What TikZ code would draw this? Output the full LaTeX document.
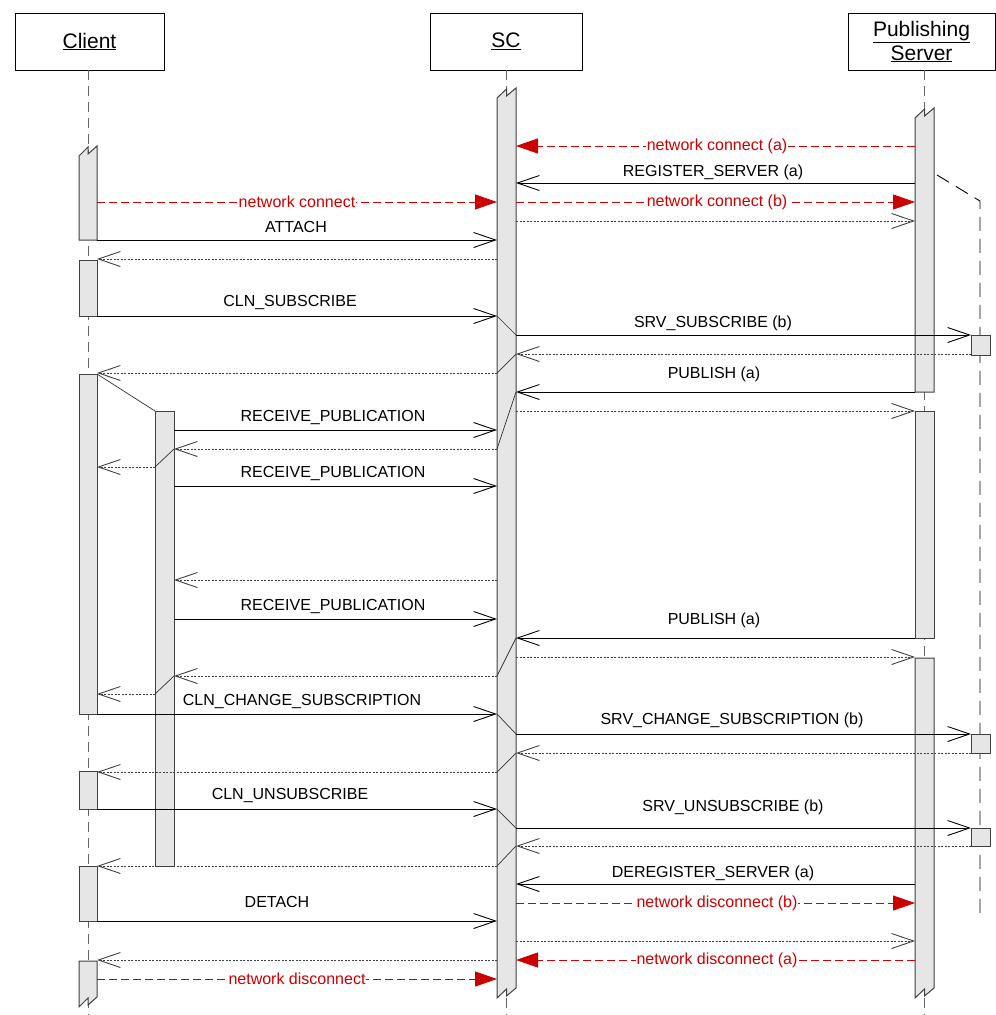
\documentclass[tikz,border=0pt]{standalone}
\usepackage{fontspec}
\setmainfont{Liberation Sans}
\usetikzlibrary{arrows.meta}
\definecolor{barfill}{HTML}{E6E6E6}
\definecolor{msgred}{HTML}{CC0000}
\definecolor{retgray}{HTML}{404040}
\tikzset{
 head/.style={draw=black, line width=0.9pt, fill=white, minimum height=57pt, inner sep=0pt, font=\fontsize{21}{26}\selectfont, align=center},
 lifeline/.style={draw=black!60, line width=0.9pt, dash pattern=on 10pt off 6pt},
 extraline/.style={draw=black, line width=0.9pt, dash pattern=on 14pt off 8pt},
 actbar/.style={fill=barfill, draw=black!75, line width=1pt},
 syncmsg/.style={draw=black, line width=0.9pt, -{Straight Barb[length=22pt,width=15pt]}},
 retmsg/.style={draw=retgray, line width=0.9pt, dash pattern=on 2pt off 1.5pt, -{Straight Barb[length=22pt,width=15pt]}},
 netmsg/.style={draw=msgred, line width=0.9pt, dash pattern=on 8pt off 4pt, -{Triangle[length=22pt,width=15pt,fill=msgred]}},
 msglabel/.style={font=\fontsize{16}{19}\selectfont, inner sep=0pt},
 netlabel/.style={font=\fontsize{16}{19}\selectfont, text=msgred, fill=white, inner xsep=1pt, inner ysep=2pt},
 link/.style={draw=black!80, line width=0.7pt},
}
% message helpers: name, x-from, x-to, y, label, label-x, label-y
\newcommand\SyncMsg[7]{%
  \coordinate (#1-from) at (#2,#4);
  \coordinate (#1-to) at (#3,#4);
  \draw[syncmsg] (#1-from) -- (#1-to);
  \node[msglabel] (#1-label) at (#6,#7) {#5};}
\newcommand\NetMsg[6]{%
  \coordinate (#1-from) at (#2,#4);
  \coordinate (#1-to) at (#3,#4);
  \draw[netmsg] (#1-from) -- (#1-to);
  \node[netlabel] (#1-label) at (#6,#4) {#5};}
\newcommand\RetMsg[4]{%
  \coordinate (#1-from) at (#2,#4);
  \coordinate (#1-to) at (#3,#4);
  \draw[retmsg] (#1-from) -- (#1-to);}
% activation bars: left, right, top, bottom
\newcommand\PlainBar[4]{\filldraw[actbar] (#1,#3) rectangle (#2,#4);}
\newcommand\ZigTopBar[4]{\filldraw[actbar] (#1,{#3+10}) -- ({(#1+#2)/2},{#3+1}) -- ({(#1+#2)/2},{#3+8}) -- (#2,#3) -- (#2,#4) -- (#1,#4) -- cycle;}
\newcommand\ZigBotBar[4]{\filldraw[actbar] (#1,#3) -- (#2,#3) -- (#2,#4) -- ({(#1+#2)/2},{#4+8}) -- ({(#1+#2)/2},{#4+1}) -- (#1,{#4+10}) -- cycle;}
\newcommand\ZigBothBar[4]{\filldraw[actbar] (#1,{#3+10}) -- ({(#1+#2)/2},{#3+1}) -- ({(#1+#2)/2},{#3+8}) -- (#2,#3) -- (#2,#4) -- ({(#1+#2)/2},{#4+8}) -- ({(#1+#2)/2},{#4+1}) -- (#1,{#4+10}) -- cycle;}

\begin{document}
\begin{tikzpicture}[x=1pt,y=-1pt]
\useasboundingbox (0,0) rectangle (996,1015);
% headers
\node[head, minimum width=149pt] (client) at (89.5,41.5) {\underline{Client}};
\node[head, minimum width=152pt] (sc) at (506,41.5) {\underline{SC}};
\node[head, minimum width=147pt] (ps) at (921.5,41.5) {\underline{Publishing}\\[-2pt]\underline{Server}};
% lifelines
\coordinate (clTop) at (88,70); \coordinate (clEnd) at (88,1015);
\coordinate (scTop) at (506,70); \coordinate (scEnd) at (506,1015);
\coordinate (psTop) at (924,70); \coordinate (psEnd) at (924,1015);
\draw[lifeline] (clTop) -- (clEnd);
\draw[lifeline] (scTop) -- (scEnd);
\draw[lifeline] (psTop) -- (psEnd);
% extra (unnamed) lifeline on the right
\coordinate (exA) at (937,175); \coordinate (exB) at (980,201); \coordinate (exC) at (980,919);
\draw[extraline] (exA) -- (exB) -- (exC);
% activation bars
\ZigTopBar{79}{97}{146}{240}
\PlainBar{79}{97}{260}{316}
\PlainBar{79}{97}{374}{714}
\PlainBar{155}{174}{411}{866}
\PlainBar{79}{97}{771}{809}
\PlainBar{79}{97}{866}{921}
\ZigBotBar{79}{97}{961}{997}
\ZigBothBar{497}{516}{88}{988}
\ZigTopBar{915}{934}{108}{392}
\PlainBar{915}{934}{411}{638}
\ZigBotBar{915}{934}{658}{988}
% small boxes on the right lifeline
\filldraw[actbar] (971,335) rectangle (990,355);
\filldraw[actbar] (971,734) rectangle (990,753);
\filldraw[actbar] (971,828) rectangle (990,846);
% internal links
\draw[link] (497,316) -- (516,335);
\draw[link] (516,354) -- (497,373);
\draw[link] (516,392) -- (497,449);
\draw[link] (97,374) -- (155,411);
\draw[link] (174,449) -- (155,467);
\draw[link] (516,638) -- (497,676);
\draw[link] (174,676) -- (155,694);
\draw[link] (497,714) -- (516,734);
\draw[link] (516,753) -- (497,772);
\draw[link] (497,809) -- (516,828);
\draw[link] (516,846) -- (497,866);
% network messages
\NetMsg{n1}{915}{516}{146}{network connect (a)}{717}
\NetMsg{n2}{97}{497}{202}{network connect}{297}
\NetMsg{n3}{516}{915}{202}{network connect (b)}{717}
\NetMsg{n4}{516}{915}{903}{network disconnect (b)}{717}
\NetMsg{n5}{915}{516}{960}{network disconnect (a)}{717}
\NetMsg{n6}{97}{497}{979}{network disconnect}{297}
% synchronous messages
\SyncMsg{s1}{915}{516}{183}{REGISTER\_SERVER (a)}{713}{172}
\SyncMsg{s2}{97}{497}{240}{ATTACH}{296}{227}
\SyncMsg{s3}{97}{497}{316}{CLN\_SUBSCRIBE}{290}{302}
\SyncMsg{s4}{516}{971}{335}{SRV\_SUBSCRIBE (b)}{713}{323}
\SyncMsg{s5}{915}{516}{392}{PUBLISH (a)}{714}{374}
\SyncMsg{s6}{174}{497}{430}{RECEIVE\_PUBLICATION}{333}{417}
\SyncMsg{s7}{174}{497}{486}{RECEIVE\_PUBLICATION}{333}{473}
\SyncMsg{s8}{174}{497}{619}{RECEIVE\_PUBLICATION}{333}{606}
\SyncMsg{s9}{915}{516}{638}{PUBLISH (a)}{714}{620}
\SyncMsg{s10}{97}{497}{714}{CLN\_CHANGE\_SUBSCRIPTION}{302}{701}
\SyncMsg{s11}{516}{971}{734}{SRV\_CHANGE\_SUBSCRIPTION (b)}{732}{720}
\SyncMsg{s12}{97}{497}{809}{CLN\_UNSUBSCRIBE}{290}{795}
\SyncMsg{s13}{516}{971}{828}{SRV\_UNSUBSCRIBE (b)}{733}{807}
\SyncMsg{s14}{915}{516}{884}{DEREGISTER\_SERVER (a)}{713}{873}
\SyncMsg{s15}{97}{497}{921}{DETACH}{277}{902}
% return messages
\RetMsg{r1}{516}{915}{221}
\RetMsg{r2}{497}{97}{259}
\RetMsg{r3}{971}{516}{354}
\RetMsg{r4}{497}{97}{373}
\RetMsg{r5}{516}{915}{411}
\RetMsg{r6}{497}{174}{449}
\RetMsg{r7}{155}{97}{467}
\RetMsg{r8}{497}{174}{580}
\RetMsg{r9}{516}{915}{657}
\RetMsg{r10}{497}{174}{676}
\RetMsg{r11}{155}{97}{694}
\RetMsg{r12}{971}{516}{753}
\RetMsg{r13}{497}{97}{772}
\RetMsg{r14}{971}{516}{846}
\RetMsg{r15}{497}{97}{866}
\RetMsg{r16}{516}{915}{941}
\RetMsg{r17}{497}{97}{960}
\end{tikzpicture}
\end{document}
